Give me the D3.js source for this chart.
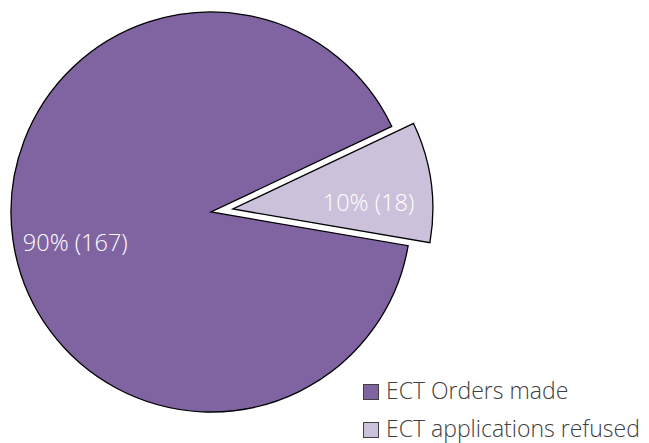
<!DOCTYPE html>
<html>
<head>
<meta charset="utf-8">
<script src="https://cdn.jsdelivr.net/npm/d3@7"></script>
<style>
  body { margin: 0; background: #fff; }
  text { font-family: "Open Sans", Lato, sans-serif; font-weight: 300; }
</style>
</head>
<body>
<script>
var categories = ["ECT Orders made", "ECT applications refused"];
var values = [167, 18];
var percentLabels = ["90%", "10%"];
var colors = ["#8064A2", "#CCC1DA"];

var w = 649;
var h = 443;
var r = 200;
var cx = 211, cy = 212;
var explode = [0, 22];
var rotation = 99.7 * Math.PI / 180;

var svg = d3.select("body")
    .append("svg")
    .attr("width", w)
    .attr("height", h);

var pie = d3.pie()
    .sort(null)
    .startAngle(rotation)
    .endAngle(rotation + 2 * Math.PI);

var arcs = pie(values);

var arc = d3.arc().innerRadius(0).outerRadius(r);
var labelArc = d3.arc().innerRadius(137).outerRadius(137);

function shift(d, i) {
    var mid = (d.startAngle + d.endAngle) / 2;
    return [Math.sin(mid) * explode[i], -Math.cos(mid) * explode[i]];
}

var g = svg.append("g")
    .attr("transform", "translate(" + cx + "," + cy + ")");

var slices = g.selectAll("g.slice")
    .data(arcs)
    .enter()
    .append("g")
    .attr("class", "slice")
    .attr("transform", function (d, i) {
        var s = shift(d, i);
        return "translate(" + s[0] + "," + s[1] + ")";
    });

slices.append("path")
    .attr("d", arc)
    .attr("fill", function (d, i) { return colors[i]; })
    .attr("stroke", "#000")
    .attr("stroke-width", 1.3)
    .attr("stroke-linejoin", "miter");

slices.append("text")
    .attr("transform", function (d) {
        var c = labelArc.centroid(d);
        return "translate(" + c[0] + "," + (c[1] + 12) + ")";
    })
    .attr("text-anchor", "middle")
    .attr("dy", "0.35em")
    .attr("font-size", 23.5)
    .attr("fill", "#fff")
    .text(function (d, i) { return percentLabels[i] + " (" + values[i] + ")"; });

// legend
var legend = svg.selectAll("g.legend")
    .data(categories)
    .enter()
    .append("g")
    .attr("class", "legend")
    .attr("transform", function (d, i) { return "translate(363," + (384 + i * 38) + ")"; });

legend.append("rect")
    .attr("x", 0.5)
    .attr("y", 0.5)
    .attr("width", 15)
    .attr("height", 15)
    .attr("fill", function (d, i) { return colors[i]; })
    .attr("stroke", "#404040")
    .attr("stroke-width", 1);

legend.append("text")
    .attr("x", 23)
    .attr("y", 15)
    .attr("font-size", 23)
    .attr("fill", "#404040")
    .text(function (d) { return d; });
</script>
</body>
</html>
